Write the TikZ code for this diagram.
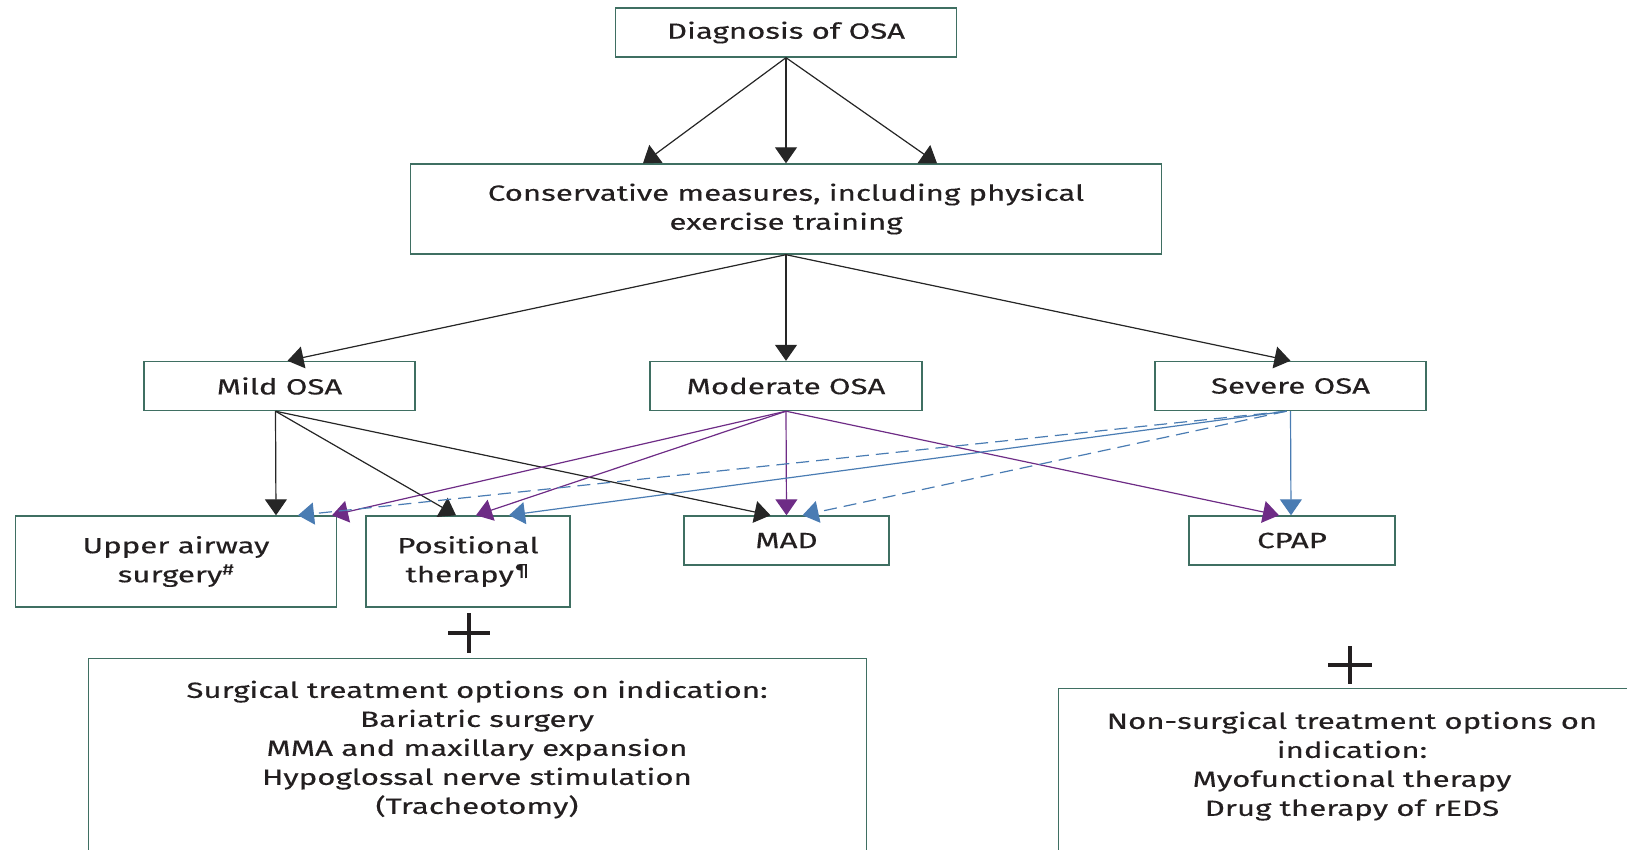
\documentclass[tikz,border=0pt]{standalone}
\usepackage{fontspec}
\setmainfont[FakeStretch=1.42,FakeBold=0.3]{Fira Sans}
\usetikzlibrary{arrows.meta}
\definecolor{boxc}{HTML}{3F6F62}
\definecolor{txtc}{HTML}{231F20}
\definecolor{purp}{HTML}{6E2C86}
\definecolor{blu}{HTML}{4A7CB3}
\tikzset{
  box/.style={draw=boxc, line width=1.4pt, minimum height=49pt, align=center, inner sep=0pt, text=txtc, font=\fontsize{22}{29}\selectfont},
  conn/.style={line width=1.2pt, -{Triangle[length=16pt,width=22pt]}},
  blk/.style={conn, draw=black!85, fill=black!85},
  pur/.style={conn, draw=purp},
  blue/.style={conn, draw=blu},
  bdash/.style={conn, draw=blu, dash pattern=on 13pt off 7pt},
}
\begin{document}
\begin{tikzpicture}[x=1pt,y=-1pt]
\useasboundingbox (0,0) rectangle (1627,850);
\clip (0,0) rectangle (1627,850);
\node[box, minimum width=341pt] (diag) at (786,32.5) {Diagnosis of OSA};
\node[box, minimum width=751pt, minimum height=90pt] (cons) at (786,209) {Conservative measures, including physical\\exercise training};
\node[box, minimum width=271pt] (mild) at (279.5,386) {Mild OSA};
\node[box, minimum width=272pt] (mod) at (786,386) {Moderate OSA};
\node[box, minimum width=271pt] (sev) at (1290.5,386) {Severe OSA};
\node[box, minimum width=321pt, minimum height=91pt] (upper) at (176,561.5) {Upper airway\\surgery\textsuperscript{\#}};
\node[box, minimum width=204pt, minimum height=91pt] (pos) at (468,561.5) {Positional\\therapy\textsuperscript{¶}};
\node[box, minimum width=205pt] (mad) at (786.5,540.5) {MAD};
\node[box, minimum width=206pt] (cpap) at (1292,540.5) {CPAP};
\node[box, minimum width=778pt, minimum height=220pt, anchor=north west] (surg) at (88,658) {};
\node[box, draw=none, anchor=north] (surgtxt) at (477,680) {Surgical treatment options on indication:\\Bariatric surgery\\MMA and maxillary expansion\\Hypoglossal nerve stimulation\\(Tracheotomy)};
\node[box, minimum width=600pt, minimum height=200pt, anchor=north west] (nons) at (1058,688) {};
\node[box, draw=none, anchor=north] (nonstxt) at (1352,711) {Non-surgical treatment options on\\indication:\\Myofunctional therapy\\Drug therapy of rEDS};
% plus signs
\draw[line width=3.5pt, txtc] (448,633) -- (490,633) (469,613) -- (469,653);
\draw[line width=3.5pt, txtc] (1328,665) -- (1372,665) (1350,646) -- (1350,684);
% diag -> cons
\draw[blk] (diag.south) -- ([xshift=-143pt]cons.north);
\draw[blk] (diag.south) -- (cons.north);
\draw[blk] (diag.south) -- ([xshift=151pt]cons.north);
% cons -> severity
\draw[blk] (cons.south) -- ([xshift=8pt]mild.north);
\draw[blk] (cons.south) -- (mod.north);
\draw[blk] (cons.south) -- (sev.north);
% mild
\draw[blk] ([xshift=-4pt]mild.south) -- ([xshift=100pt]upper.north);
\draw[blk] ([xshift=-4pt]mild.south) -- ([xshift=-12pt]pos.north);
\draw[blk] ([xshift=-4pt]mild.south) -- ([xshift=-16pt]mad.north);
% moderate
\draw[pur] (mod.south) -- ([xshift=156pt]upper.north);
\draw[pur] (mod.south) -- ([xshift=8pt]pos.north);
\draw[pur] (mod.south) -- (mad.north);
\draw[pur] (mod.south) -- ([xshift=-13pt]cpap.north);
% severe
\draw[bdash] ([xshift=-4pt]sev.south) -- ([xshift=122pt]upper.north);
\draw[blue] ([xshift=-4pt]sev.south) -- ([xshift=41pt]pos.north);
\draw[bdash] ([xshift=-4pt]sev.south) -- ([xshift=16pt]mad.north);
\draw[blue] (sev.south) -- ([xshift=-1pt]cpap.north);
\end{tikzpicture}
\end{document}
